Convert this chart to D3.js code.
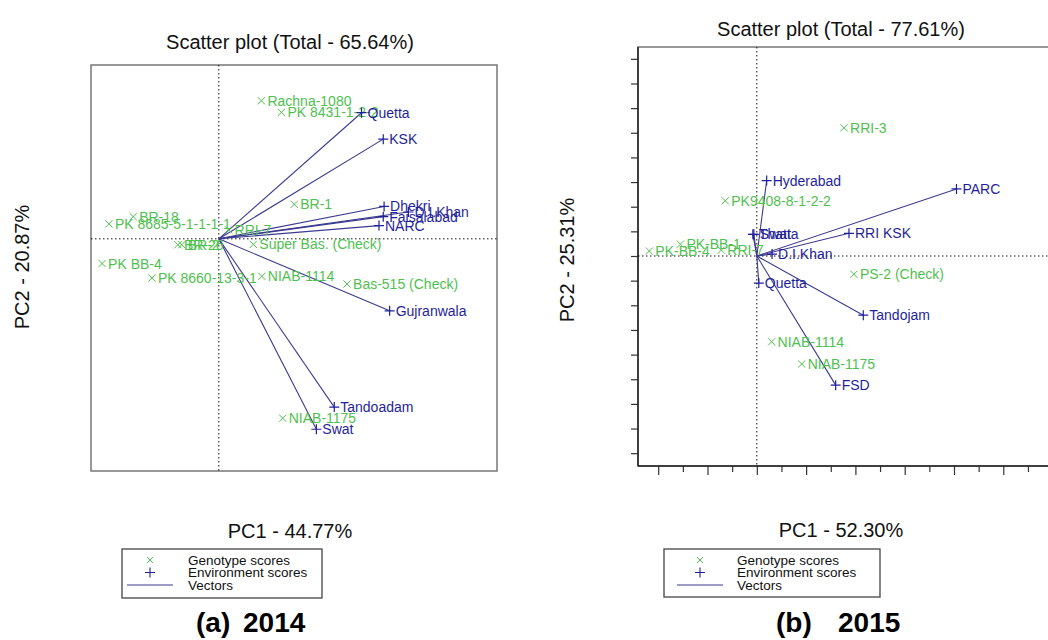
<!DOCTYPE html>
<html>
<head>
<meta charset="utf-8">
<script src="https://cdn.jsdelivr.net/npm/d3@7"></script>
<style>
  html, body { margin: 0; padding: 0; background: #fff; }
  svg { display: block; font-family: "Liberation Sans", Arial, sans-serif; }
</style>
</head>
<body>
<svg id="chart" width="1048" height="640"></svg>
<script>
// ---------- DATA: 2014 ----------
const genoNames2014 = ["Rachna-1080", "PK 8431-1-2-2", "BR-1", "BR-18", "PK 8685-5-1-1-1-1", "RRI-7",
  "BR-26", "BR-2", "Super Bas. (Check)", "PK BB-4", "PK 8660-13-3-1", "NIAB-1114", "Bas-515 (Check)", "NIAB-1175"];
const genoPC1_2014 = [1.00, 1.47, 1.77, -2.01, -2.58, 0.23, -0.96, -0.87, 0.81, -2.74, -1.57, 1.01, 3.01, 1.50];
const genoPC2_2014 = [3.24, 2.97, 0.81, 0.52, 0.35, 0.21, -0.14, -0.14, -0.13, -0.58, -0.92, -0.88, -1.06, -4.21];
const envNames2014 = ["Quetta", "KSK", "Dhekri", "D.I.Khan", "Faisalabad", "NARC", "Gujranwala", "Tandoadam", "Swat"];
const envPC1_2014 = [3.35, 3.86, 3.88, 4.45, 3.86, 3.76, 4.01, 2.71, 2.29];
const envPC2_2014 = [2.96, 2.34, 0.76, 0.63, 0.52, 0.31, -1.69, -3.95, -4.47];

// ---------- DATA: 2015 ----------
const genoNames2015 = ["RRI-3", "PK9408-8-1-2-2", "PK-BB-1", "PK-BB-4", "RRI-7", "PS-2 (Check)", "NIAB-1114", "NIAB-1175"];
const genoPC1_2015 = [1.77, -0.64, -1.55, -2.18, -0.72, 1.97, 0.30, 0.91];
const genoPC2_2015 = [2.60, 1.12, 0.24, 0.10, 0.12, -0.37, -1.74, -2.19];
const envNames2015 = ["Hyderabad", "Thatta", "Swat", "RRI KSK", "PARC", "D.I.Khan", "Quetta", "Tandojam", "FSD"];
const envPC1_2015 = [0.20, -0.08, -0.06, 1.87, 4.05, 0.31, 0.04, 2.16, 1.60];
const envPC2_2015 = [1.53, 0.44, 0.44, 0.46, 1.36, 0.04, -0.55, -1.20, -2.62];

// ---------- TEXTS ----------
const titles = ["Scatter plot (Total - 65.64%)", "Scatter plot (Total - 77.61%)"];
const xLabels = ["PC1 - 44.77%", "PC1 - 52.30%"];
const yLabels = ["PC2 - 20.87%", "PC2 - 25.31%"];
const legendItems = ["Genotype scores", "Environment scores", "Vectors"];
const captionsA = ["(a)", "2014"];
const captionsB = ["(b)", "2015"];
const xTicks2015 = [-2, -1.5, -1, -0.5, 0, 0.5, 1, 1.5, 2, 2.5, 3, 3.5, 4, 4.5, 5, 5.5];
const yTicks2015 = [-4, -3.5, -3, -2.5, -2, -1.5, -1, -0.5, 0, 0.5, 1, 1.5, 2, 2.5, 3, 3.5, 4];

const GREEN = "#4fbf4f";
const BLUE = "#1f1f9c";
const VEC = "#3a3a90";

const svg = d3.select("#chart");

function zip(names, xs, ys) { return names.map((n, i) => ({ name: n, x: xs[i], y: ys[i] })); }

function drawPanel(cfg) {
  const g = svg.append("g");
  const x = d3.scaleLinear().domain(cfg.xDomain).range([cfg.left, cfg.right]);
  const y = d3.scaleLinear().domain(cfg.yDomain).range([cfg.bottom, cfg.top]);

  // box
  g.append("rect")
    .attr("x", cfg.left).attr("y", cfg.top)
    .attr("width", cfg.right - cfg.left).attr("height", cfg.bottom - cfg.top)
    .attr("fill", "none").attr("stroke", cfg.boxColor).attr("stroke-width", 1.5);

  // ticks
  if (cfg.ticks) {
    const major = cfg.xTicks.filter(v => Number.isInteger(v));
    const minor = cfg.xTicks.filter(v => !Number.isInteger(v));
    const axB1 = g.append("g").attr("transform", `translate(0,${cfg.bottom})`)
      .call(d3.axisBottom(x).tickValues(major).tickSize(9).tickFormat(""));
    const axB2 = g.append("g").attr("transform", `translate(0,${cfg.bottom})`)
      .call(d3.axisBottom(x).tickValues(minor).tickSize(6).tickFormat(""));
    const axL = g.append("g").attr("transform", `translate(${cfg.left},0)`)
      .call(d3.axisLeft(y).tickValues(cfg.yTicks).tickSize(7).tickFormat(""));
    [axB1, axB2, axL].forEach(a => {
      a.select(".domain").remove();
      a.selectAll("line").attr("stroke", "#333").attr("stroke-width", 1.2);
    });
    g.append("line").attr("x1", cfg.left).attr("x2", cfg.left).attr("y1", cfg.top).attr("y2", cfg.bottom)
      .attr("stroke", "#222").attr("stroke-width", 1.5);
    g.append("line").attr("x1", cfg.left).attr("x2", cfg.right).attr("y1", cfg.bottom).attr("y2", cfg.bottom)
      .attr("stroke", "#222").attr("stroke-width", 1.5);
  }

  // origin dotted lines
  g.append("line").attr("x1", x(0)).attr("x2", x(0)).attr("y1", cfg.top).attr("y2", cfg.bottom)
    .attr("stroke", "#111").attr("stroke-width", 1).attr("stroke-dasharray", "1.5,2.5");
  g.append("line").attr("x1", cfg.left).attr("x2", cfg.right).attr("y1", y(0)).attr("y2", y(0))
    .attr("stroke", "#111").attr("stroke-width", 1).attr("stroke-dasharray", "1.5,2.5");

  // vectors
  g.selectAll(".vec").data(cfg.env).enter().append("line")
    .attr("x1", x(0)).attr("y1", y(0))
    .attr("x2", d => x(d.x)).attr("y2", d => y(d.y))
    .attr("stroke", VEC).attr("stroke-width", 1.1);

  // genotype markers & labels
  const s = 3.6;
  const gg = g.selectAll(".geno").data(cfg.geno).enter().append("g")
    .attr("transform", d => `translate(${x(d.x)},${y(d.y)})`);
  gg.append("path").attr("d", `M${-s},${-s}L${s},${s}M${-s},${s}L${s},${-s}`)
    .attr("stroke", GREEN).attr("stroke-width", 1);
  gg.append("text").attr("x", 6).attr("dy", "0.36em").text(d => d.name)
    .attr("fill", GREEN).attr("font-size", cfg.labelSize);

  // environment markers & labels
  const p = 5;
  const ge = g.selectAll(".env").data(cfg.env).enter().append("g")
    .attr("transform", d => `translate(${x(d.x)},${y(d.y)})`);
  ge.append("path").attr("d", `M${-p},0L${p},0M0,${-p}L0,${p}`)
    .attr("stroke", BLUE).attr("stroke-width", 1.2);
  ge.append("text").attr("x", 6).attr("dy", "0.36em").text(d => d.name)
    .attr("fill", BLUE).attr("font-size", cfg.labelSize);

  // title and axis labels
  svg.append("text").attr("x", cfg.titleX).attr("y", cfg.titleY).attr("text-anchor", "middle")
    .attr("font-size", cfg.titleSize).attr("fill", "#111").text(cfg.title);
  svg.append("text").attr("x", cfg.titleX).attr("y", cfg.xLabY).attr("text-anchor", "middle")
    .attr("font-size", cfg.titleSize).attr("fill", "#111").text(cfg.xLab);
  svg.append("text").attr("transform", `translate(${cfg.yLabX},${cfg.yLabY}) rotate(-90)`)
    .attr("text-anchor", "middle").attr("dy", "0.36em")
    .attr("font-size", cfg.titleSize).attr("fill", "#111").text(cfg.yLab);

  // legend
  const L = cfg.legend;
  svg.append("rect").attr("x", L.x).attr("y", L.y).attr("width", L.w).attr("height", L.h)
    .attr("fill", "#fff").attr("stroke", "#444").attr("stroke-width", 1.3);
  const rows = [L.y + 11, L.y + 23.5, L.y + 36];
  svg.append("path").attr("d", `M${L.sym - 3},${rows[0] - 3}L${L.sym + 3},${rows[0] + 3}M${L.sym - 3},${rows[0] + 3}L${L.sym + 3},${rows[0] - 3}`)
    .attr("stroke", GREEN).attr("stroke-width", 1);
  svg.append("path").attr("d", `M${L.sym - 5},${rows[1]}L${L.sym + 5},${rows[1]}M${L.sym},${rows[1] - 5}L${L.sym},${rows[1] + 5}`)
    .attr("stroke", BLUE).attr("stroke-width", 1.1);
  svg.append("line").attr("x1", L.sym - 23).attr("x2", L.sym + 23).attr("y1", rows[2]).attr("y2", rows[2])
    .attr("stroke", VEC).attr("stroke-width", 1.1);
  legendItems.forEach((t, i) => {
    svg.append("text").attr("x", L.tx).attr("y", rows[i]).attr("dy", "0.36em")
      .attr("font-size", L.size).attr("fill", "#111").text(t);
  });

  // caption
  cfg.caption.forEach((t, i) => {
    svg.append("text").attr("x", cfg.capX[i]).attr("y", 632).attr("font-size", 28)
      .attr("font-weight", "bold").attr("fill", "#000").text(t);
  });
}

drawPanel({
  xDomain: [-3.0, 6.53], yDomain: [-5.45, 4.08],
  left: 91, right: 497, top: 65, bottom: 471,
  boxColor: "#777", ticks: false,
  geno: zip(genoNames2014, genoPC1_2014, genoPC2_2014),
  env: zip(envNames2014, envPC1_2014, envPC2_2014),
  labelSize: 14,
  title: titles[0], xLab: xLabels[0], yLab: yLabels[0],
  titleX: 290, titleY: 49, xLabY: 538, yLabX: 22, yLabY: 267, titleSize: 20,
  legend: { x: 122, y: 549, w: 200, h: 49, sym: 150, tx: 188, size: 13.5 },
  caption: captionsA, capX: [196, 243]
});

drawPanel({
  xDomain: [-2.41, 6.0], yDomain: [-4.26, 4.24],
  left: 638, right: 1052.6, top: 47, bottom: 466,
  boxColor: "#777", ticks: true,
  xTicks: xTicks2015, yTicks: yTicks2015,
  geno: zip(genoNames2015, genoPC1_2015, genoPC2_2015),
  env: zip(envNames2015, envPC1_2015, envPC2_2015),
  labelSize: 14,
  title: titles[1], xLab: xLabels[1], yLab: yLabels[1],
  titleX: 841, titleY: 36, xLabY: 537, yLabX: 567, yLabY: 260, titleSize: 20,
  legend: { x: 664, y: 549, w: 216, h: 48, sym: 700, tx: 737, size: 13.5 },
  caption: captionsB, capX: [776, 838]
});
</script>
</body>
</html>
